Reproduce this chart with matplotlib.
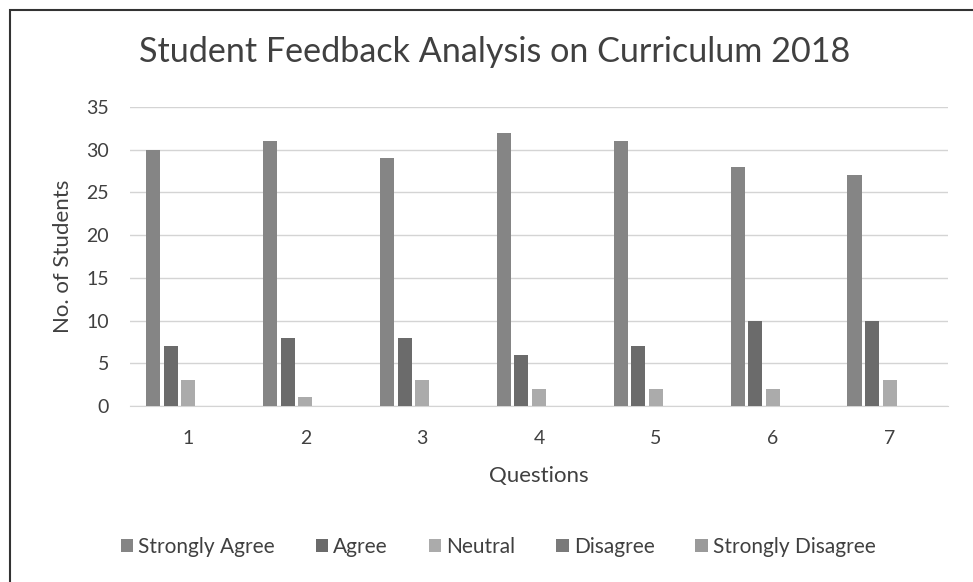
import numpy as np
import matplotlib
matplotlib.use("Agg")
import matplotlib.pyplot as plt
from matplotlib.patches import Rectangle

plt.rcParams["font.family"] = ["Lato", "DejaVu Sans"]

# data
questions = ["1", "2", "3", "4", "5", "6", "7"]
series_names = ["Strongly Agree", "Agree", "Neutral", "Disagree", "Strongly Disagree"]
strongly_agree = [30, 31, 29, 32, 31, 28, 27]
agree = [7, 8, 8, 6, 7, 10, 10]
neutral = [3, 1, 3, 2, 2, 2, 3]
disagree = [0, 0, 0, 0, 0, 0, 0]
strongly_disagree = [0, 0, 0, 0, 0, 0, 0]
yticks = [0, 5, 10, 15, 20, 25, 30, 35]

colors = ["#858585", "#6b6b6b", "#ababab", "#7a7a7a", "#9a9a9a"]
series = [strongly_agree, agree, neutral, disagree, strongly_disagree]

fig = plt.figure(figsize=(9.73, 5.82), dpi=100)
ax = fig.add_axes([0.1336, 0.3024, 0.9743 - 0.1336, 0.8162 - 0.3024])

x = np.arange(1, len(questions) + 1)
step, width = 0.15, 0.12
for i, (vals, name, col) in enumerate(zip(series, series_names, colors)):
    ax.bar(x + (i - 2) * step, vals, width, color=col, label=name, zorder=3)

ax.set_xlim(0.5, 7.5)
ax.set_ylim(0, 35)
ax.set_yticks(yticks)
ax.set_xticks(x)
ax.set_xticklabels(questions)
ax.grid(axis="y", color="#d4d4d4", lw=1.0, zorder=0)
for s in ["top", "right", "left"]:
    ax.spines[s].set_visible(False)
ax.spines["bottom"].set_color("#d4d4d4")
ax.tick_params(length=0, labelsize=14, colors="#404040")
ax.tick_params(axis="y", pad=15)
ax.tick_params(axis="x", pad=17)

ax.set_ylabel("No. of Students", fontsize=16, color="#404040", labelpad=10)
ax.set_xlabel("Questions", fontsize=16, color="#404040", labelpad=14)
fig.text(0.508, 1 - 52 / 582, "Student Feedback Analysis on Curriculum 2018",
         ha="center", va="center", fontsize=24.6, color="#404040")

ax.legend(loc="center", bbox_to_anchor=(0.512, 1 - 547 / 582),
          bbox_transform=fig.transFigure,
          ncol=5, frameon=False, fontsize=15, handlelength=0.6, handleheight=0.6,
          handletextpad=0.25, columnspacing=1.95, labelcolor="#404040")

# scanned frame of the chart
fig.patches.append(Rectangle((10 / 973, -0.05), 1.2, 1 - 10 / 582 + 0.05,
                             transform=fig.transFigure, fill=False,
                             edgecolor="#333333", lw=1.5))

fig.savefig("out.png", dpi=100)
